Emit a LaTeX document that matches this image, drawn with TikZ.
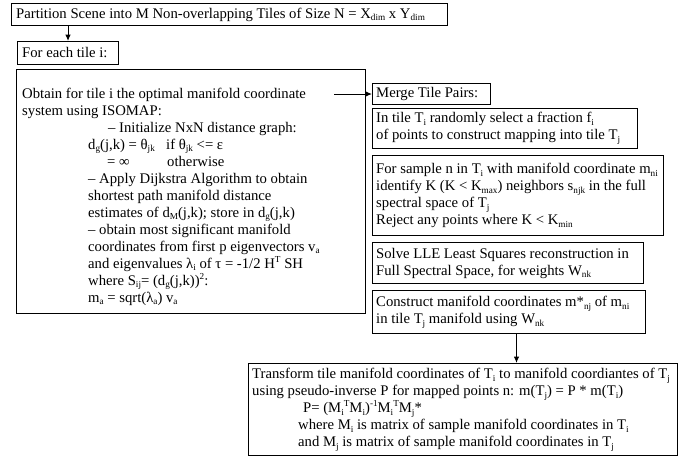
\documentclass[tikz,border=0pt]{standalone}
\usepackage{fontspec}
\setmainfont{Liberation Serif}
\usetikzlibrary{arrows.meta}
\newcommand{\tsub}[1]{\raisebox{-2.6pt}{\fontsize{9.2pt}{9.2pt}\selectfont #1}}
\newcommand{\tsup}[1]{\raisebox{5.6pt}{\fontsize{9.2pt}{9.2pt}\selectfont #1}}
\begin{document}
\begin{tikzpicture}[x=1pt,y=-1pt,
  box/.style={draw, line width=1pt, anchor=north west, inner sep=0pt},
  txt/.style={inner sep=0pt, anchor=west, align=left, font=\fontsize{14.7pt}{17pt}\selectfont},
  arr/.style={line width=1pt, -{Latex[length=6.5pt,width=5.5pt]}}
]
\useasboundingbox (0,0) rectangle (679,463);
% boxes
\node[box, minimum width=436pt, minimum height=22pt] (top) at (11,3) {};
\node[box, minimum width=101pt, minimum height=23pt] (each) at (17,41) {};
\node[box, minimum width=349pt, minimum height=244pt] (big) at (16,69) {};
\node[box, minimum width=118pt, minimum height=21pt] (merge) at (372,83) {};
\node[box, minimum width=265pt, minimum height=40pt] (frac) at (372,108) {};
\node[box, minimum width=291pt, minimum height=80pt] (sample) at (372,155) {};
\node[box, minimum width=271pt, minimum height=41pt] (solve) at (372,242) {};
\node[box, minimum width=273pt, minimum height=43pt] (cons) at (372,290) {};
\node[box, minimum width=429pt, minimum height=92pt] (fin) at (248,363) {};
% texts
\node[txt] (topT) at ([xshift=5pt]top.west) {Partition Scene into M Non-overlapping Tiles of Size N = X\tsub{dim} x Y\tsub{dim}};
\node[txt] (eachT) at ([xshift=5pt]each.west) {For each tile i:};
\node[txt] (bigT) at ([xshift=6pt,yshift=-5pt]big.west) {Obtain for tile i the optimal manifold coordinate\\
system using ISOMAP:\\
\hspace*{86pt}– Initialize NxN distance graph:\\
\hspace*{66pt}\makebox[78pt][l]{d\tsub{g}(j,k) = θ\tsub{jk}}if θ\tsub{jk} <= ε\\
\hspace*{85pt}\makebox[60pt][l]{= ∞}otherwise\\
\hspace*{66pt}– Apply Dijkstra Algorithm to obtain\\
\hspace*{66pt}shortest path manifold distance\\
\hspace*{66pt}estimates of d\tsub{M}(j,k); store in d\tsub{g}(j,k)\\
\hspace*{66pt}– obtain most significant manifold\\
\hspace*{66pt}coordinates from first p eigenvectors v\tsub{a}\\
\hspace*{66pt}and eigenvalues λ\tsub{i} of τ = -1/2 H\tsup{T} SH\\
\hspace*{66pt}where S\tsub{ij}= (d\tsub{g}(j,k))\tsup{2}:\\
\hspace*{66pt}m\tsub{a} = sqrt(λ\tsub{a}) v\tsub{a}};
\node[txt] (mergeT) at ([xshift=4pt]merge.west) {Merge Tile Pairs:};
\node[txt] (fracT) at ([xshift=4pt]frac.west) {In tile T\tsub{i} randomly select a fraction f\tsub{i}\\
of points to construct mapping into tile T\tsub{j}};
\node[txt] (sampleT) at ([xshift=4pt]sample.west) {For sample n in T\tsub{i} with manifold coordinate m\tsub{ni}\\
identify K (K < K\tsub{max}) neighbors s\tsub{njk}  in the full\\
spectral space of T\tsub{j}\\
Reject any points where K < K\tsub{min}};
\node[txt] (solveT) at ([xshift=4pt]solve.west) {Solve LLE Least Squares reconstruction in\\
Full Spectral Space, for weights W\tsub{nk}};
\node[txt] (consT) at ([xshift=4pt]cons.west) {Construct manifold coordinates m*\tsub{nj} of m\tsub{ni}\\
in tile T\tsub{j} manifold using W\tsub{nk}};
\node[txt] (finT) at ([xshift=4pt]fin.west) {Transform tile manifold coordinates of T\tsub{i} to manifold coordiantes of T\tsub{j}\\
using pseudo-inverse P for mapped points n: m(T\tsub{j}) = P * m(T\tsub{i})\\
\hspace*{51pt}P= (M\tsub{i}\tsup{T}M\tsub{i})\tsup{-1}M\tsub{i}\tsup{T}M\tsub{j}*\\
\hspace*{46pt}where M\tsub{i} is matrix of sample manifold coordinates in T\tsub{i}\\
\hspace*{46pt}and M\tsub{j} is matrix of sample manifold coordinates in T\tsub{j}};
% connectors
\draw[arr] (top.south -| each.north) -- (each.north);
\path (merge.west) ++(-38pt,0) coordinate (bigout);
\draw[arr] (bigout) -- (merge.west);
\draw[arr] ([xshift=7.5pt]cons.south) -- ([xshift=7.5pt]cons.south |- fin.north);
\end{tikzpicture}
\end{document}
